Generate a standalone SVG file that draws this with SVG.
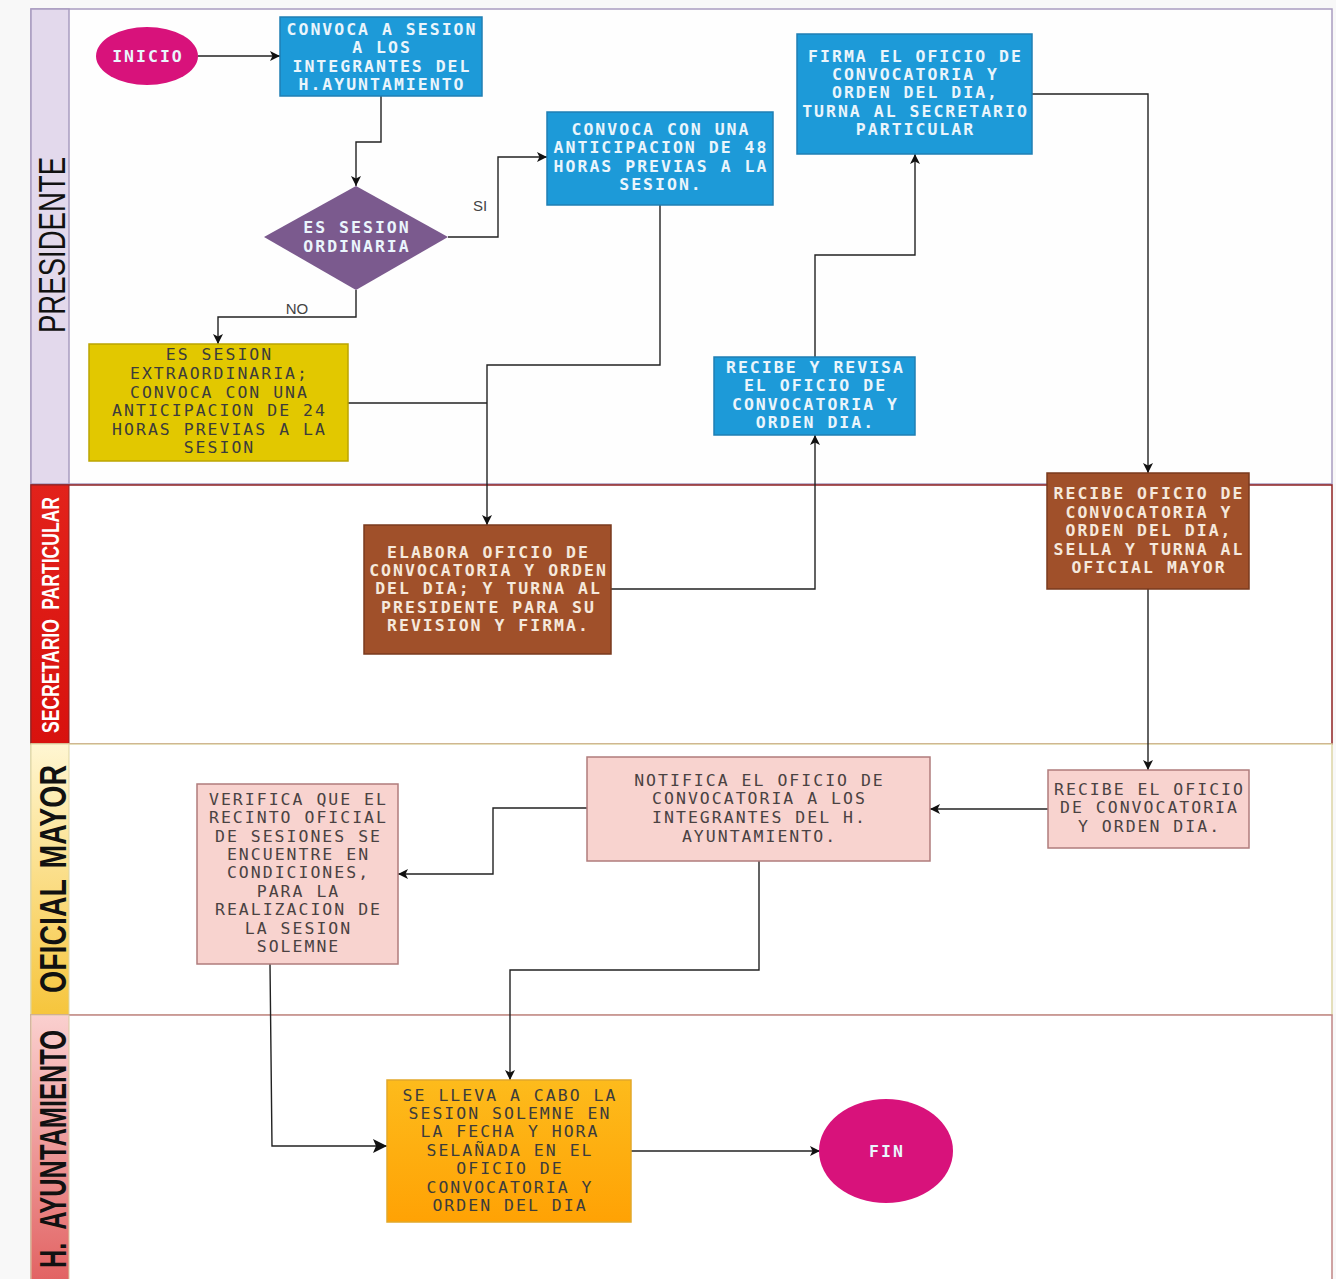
<svg xmlns="http://www.w3.org/2000/svg" width="1336" height="1279" viewBox="0 0 1336 1279">
<defs>
<style>
.t{font-family:"DejaVu Sans Mono","Liberation Mono",monospace;font-size:16.5px;letter-spacing:2px;text-anchor:middle}
.lt{fill:#eaf5fc;font-weight:bold}
.br{fill:#f5e8dc;font-weight:bold}
.dk{fill:#3c3c3c}
.pk{fill:#4a4242}
.blue{fill:#1d9ad8;stroke:#1f7fb4;stroke-width:1.5}
.brown{fill:#a0502a;stroke:#7a3a1e;stroke-width:1.5}
.pink{fill:#f8d3cf;stroke:#b07c7c;stroke-width:1.5}
.mag{fill:#d8127b}
.lbl{font-family:"Liberation Sans",Arial,sans-serif;text-anchor:middle}
.c{fill:none;stroke:#222;stroke-width:1.4}
.lab{font-family:"Liberation Sans",Arial,sans-serif;font-size:15px;fill:#444}
</style>
<marker id="ah" markerWidth="10" markerHeight="10" refX="10" refY="5" orient="auto" markerUnits="userSpaceOnUse" viewBox="0 0 10 10">
<path d="M0,0 L10,5 L0,10 L2.5,5 z" fill="#111"/>
</marker>
<marker id="ahb" markerWidth="14" markerHeight="14" refX="14" refY="7" orient="auto" markerUnits="userSpaceOnUse" viewBox="0 0 14 14">
<path d="M0,0 L14,7 L0,14 L3,7 z" fill="#111"/>
</marker>
<linearGradient id="gOM" x1="0" y1="0" x2="0" y2="1">
<stop offset="0" stop-color="#fff6d2"/>
<stop offset="1" stop-color="#f6c53c"/>
</linearGradient>
<linearGradient id="gHA" x1="0" y1="0" x2="0" y2="1">
<stop offset="0" stop-color="#fad0cf"/>
<stop offset="1" stop-color="#e15f5f"/>
</linearGradient>
<linearGradient id="gSP" x1="0" y1="0" x2="0" y2="1">
<stop offset="0" stop-color="#e2221b"/>
<stop offset="1" stop-color="#d8120e"/>
</linearGradient>
<linearGradient id="gOR" x1="0" y1="0" x2="0" y2="1">
<stop offset="0" stop-color="#fdbb1c"/>
<stop offset="1" stop-color="#ffa204"/>
</linearGradient>
</defs>
<rect x="0" y="0" width="1336" height="1279" fill="#f8f8f8"/>

<g id="lanes">
<g id="lane-presidente">
<rect x="31" y="9" width="1301" height="475" fill="#fefefe" stroke="#a99cc0" stroke-width="1.5"/>
<rect x="31" y="9" width="38" height="475" fill="#e3d9ec" stroke="#a99cc0" stroke-width="1.5"/>
<text class="lbl" transform="translate(65,245) rotate(-90)" font-size="37" textLength="176" lengthAdjust="spacingAndGlyphs" fill="#111">PRESIDENTE</text>
</g>
<g id="lane-secretario">
<rect x="31" y="485" width="1301" height="259" fill="#ffffff" stroke="#8e2222" stroke-width="1.5"/>
<rect x="31" y="485" width="38" height="259" fill="url(#gSP)" stroke="#8e2222" stroke-width="1"/>
<text class="lbl" transform="translate(59,615) rotate(-90)" font-size="24" font-weight="bold" textLength="236" lengthAdjust="spacingAndGlyphs" fill="#ffffff" word-spacing="6">SECRETARIO PARTICULAR</text>
</g>
<g id="lane-oficial">
<rect x="31" y="744" width="1301" height="271" fill="#ffffff" stroke="#ddd5a5" stroke-width="1.5"/>
<rect x="31" y="744" width="38" height="271" fill="url(#gOM)" stroke="#ddd5a5" stroke-width="1"/>
<text class="lbl" transform="translate(66,879) rotate(-90)" font-size="37" font-weight="bold" textLength="228" lengthAdjust="spacingAndGlyphs" fill="#111" word-spacing="4">OFICIAL MAYOR</text>
</g>
<g id="lane-ayuntamiento">
<rect x="31" y="1015" width="1301" height="275" fill="#ffffff" stroke="#c08585" stroke-width="1.5"/>
<rect x="31" y="1015" width="38" height="275" fill="url(#gHA)" stroke="#d9c9a0" stroke-width="1"/>
<text class="lbl" transform="translate(66,1149) rotate(-90)" font-size="37" font-weight="bold" textLength="238" lengthAdjust="spacingAndGlyphs" fill="#111" word-spacing="10">H. AYUNTAMIENTO</text>
</g>
</g>

<g id="connectors">
<path class="c" d="M198,56 L280,56" marker-end="url(#ah)"/>
<path class="c" d="M381,96 L381,142 L356,142 L356,186" marker-end="url(#ah)"/>
<path class="c" d="M448,237 L498,237 L498,157 L547,157" marker-end="url(#ah)"/>
<path class="c" d="M356,290 L356,317 L218,317 L218,344" marker-end="url(#ah)"/>
<path class="c" d="M660,205 L660,365 L487,365 L487,525" marker-end="url(#ah)"/>
<path class="c" d="M348,403 L487,403"/>
<path class="c" d="M611,589 L815,589 L815,435" marker-end="url(#ah)"/>
<path class="c" d="M815,357 L815,255 L915,255 L915,154" marker-end="url(#ah)"/>
<path class="c" d="M1032,94 L1148,94 L1148,473" marker-end="url(#ah)"/>
<path class="c" d="M1148,589 L1148,770" marker-end="url(#ah)"/>
<path class="c" d="M1048,809 L930,809" marker-end="url(#ah)"/>
<path class="c" d="M587,808 L493,808 L493,874 L398,874" marker-end="url(#ah)"/>
<path class="c" d="M759,861 L759,970 L510,970 L510,1080" marker-end="url(#ah)"/>
<path class="c" d="M270,964 L272,1146 L387,1146" stroke-width="2.2" marker-end="url(#ahb)"/>
<path class="c" d="M631,1151 L820,1151" marker-end="url(#ah)"/>
<text class="lab" x="480" y="211" text-anchor="middle">SI</text>
<text class="lab" x="297" y="314" text-anchor="middle">NO</text>
</g>

<g id="n-inicio">
<ellipse class="mag" cx="147" cy="56" rx="51" ry="29"/>
<text class="t lt" x="148" y="62" fill="#fbe8f2">INICIO</text>
</g>

<g id="n-convoca">
<rect class="blue" x="280" y="17" width="202" height="79"/>
<text class="t lt"><tspan x="382" y="34.5">CONVOCA A SESION</tspan><tspan x="382" y="53">A LOS</tspan><tspan x="382" y="71.5">INTEGRANTES DEL</tspan><tspan x="382" y="90">H.AYUNTAMIENTO</tspan></text>
</g>

<g id="n-decision">
<polygon points="356,186 448,237 356,290 264,237" fill="#7b5a8e"/>
<text class="t lt" fill="#f0eaf4"><tspan x="357" y="233">ES SESION</tspan><tspan x="357" y="252">ORDINARIA</tspan></text>
</g>

<g id="n-convoca48">
<rect class="blue" x="547" y="112" width="226" height="93"/>
<text class="t lt"><tspan x="661" y="134.5">CONVOCA CON UNA</tspan><tspan x="661" y="153">ANTICIPACION DE 48</tspan><tspan x="661" y="171.5">HORAS PREVIAS A LA</tspan><tspan x="661" y="190">SESION.</tspan></text>
</g>

<g id="n-firma">
<rect class="blue" x="797" y="34" width="235" height="120"/>
<text class="t lt"><tspan x="915.5" y="61.5">FIRMA EL OFICIO DE</tspan><tspan x="915.5" y="79.5">CONVOCATORIA Y</tspan><tspan x="915.5" y="98">ORDEN DEL DIA,</tspan><tspan x="915.5" y="116.5">TURNA AL SECRETARIO</tspan><tspan x="915.5" y="135">PARTICULAR</tspan></text>
</g>

<g id="n-extra">
<rect x="89" y="344" width="259" height="117" fill="#e2c800" stroke="#bba400" stroke-width="1.5"/>
<text class="t dk"><tspan x="219.5" y="360">ES SESION</tspan><tspan x="219.5" y="379">EXTRAORDINARIA;</tspan><tspan x="219.5" y="397.5">CONVOCA CON UNA</tspan><tspan x="219.5" y="416">ANTICIPACION DE 24</tspan><tspan x="219.5" y="434.5">HORAS PREVIAS A LA</tspan><tspan x="219.5" y="453">SESION</tspan></text>
</g>

<g id="n-revisa">
<rect class="blue" x="714" y="357" width="201" height="78"/>
<text class="t lt"><tspan x="815.5" y="372.5">RECIBE Y REVISA</tspan><tspan x="815.5" y="391">EL OFICIO DE</tspan><tspan x="815.5" y="409.5">CONVOCATORIA Y</tspan><tspan x="815.5" y="428">ORDEN DIA.</tspan></text>
</g>

<g id="n-elabora">
<rect class="brown" x="364" y="525" width="247" height="129"/>
<text class="t br"><tspan x="488.5" y="557.5">ELABORA OFICIO DE</tspan><tspan x="488.5" y="576">CONVOCATORIA Y ORDEN</tspan><tspan x="488.5" y="594">DEL DIA; Y TURNA AL</tspan><tspan x="488.5" y="612.5">PRESIDENTE PARA SU</tspan><tspan x="488.5" y="631">REVISION Y FIRMA.</tspan></text>
</g>

<g id="n-recibe-sella">
<rect class="brown" x="1047" y="473" width="202" height="116"/>
<text class="t br"><tspan x="1149" y="498.5">RECIBE OFICIO DE</tspan><tspan x="1149" y="517.5">CONVOCATORIA Y</tspan><tspan x="1149" y="536">ORDEN DEL DIA,</tspan><tspan x="1149" y="554.5">SELLA Y TURNA AL</tspan><tspan x="1149" y="573">OFICIAL MAYOR</tspan></text>
</g>

<g id="n-recibe-om">
<rect class="pink" x="1048" y="770" width="201" height="78"/>
<text class="t pk"><tspan x="1149.5" y="794.5">RECIBE EL OFICIO</tspan><tspan x="1149.5" y="813">DE CONVOCATORIA</tspan><tspan x="1149.5" y="832">Y ORDEN DIA.</tspan></text>
</g>

<g id="n-notifica">
<rect class="pink" x="587" y="757" width="343" height="104"/>
<text class="t pk"><tspan x="759.5" y="785.5">NOTIFICA EL OFICIO DE</tspan><tspan x="759.5" y="804">CONVOCATORIA A LOS</tspan><tspan x="759.5" y="823">INTEGRANTES DEL H.</tspan><tspan x="759.5" y="841.5">AYUNTAMIENTO.</tspan></text>
</g>

<g id="n-verifica">
<rect class="pink" x="197" y="784" width="201" height="180"/>
<text class="t pk"><tspan x="298.5" y="804.5">VERIFICA QUE EL</tspan><tspan x="298.5" y="822.5">RECINTO OFICIAL</tspan><tspan x="298.5" y="841.5">DE SESIONES SE</tspan><tspan x="298.5" y="859.5">ENCUENTRE EN</tspan><tspan x="298.5" y="877.5">CONDICIONES,</tspan><tspan x="298.5" y="896.5">PARA LA</tspan><tspan x="298.5" y="914.5">REALIZACION DE</tspan><tspan x="298.5" y="933.5">LA SESION</tspan><tspan x="298.5" y="951.5">SOLEMNE</tspan></text>
</g>

<g id="n-sesion">
<rect x="387" y="1080" width="244" height="142" fill="url(#gOR)" stroke="#e2a82a" stroke-width="1.5"/>
<text class="t dk"><tspan x="510" y="1100.5">SE LLEVA A CABO LA</tspan><tspan x="510" y="1118.5">SESION SOLEMNE EN</tspan><tspan x="510" y="1136.5">LA FECHA Y HORA</tspan><tspan x="510" y="1155.5">SELAÑADA EN EL</tspan><tspan x="510" y="1173.5">OFICIO DE</tspan><tspan x="510" y="1192.5">CONVOCATORIA Y</tspan><tspan x="510" y="1210.5">ORDEN DEL DIA</tspan></text>
</g>

<g id="n-fin">
<ellipse class="mag" cx="886" cy="1151" rx="67" ry="52"/>
<text class="t lt" x="887" y="1157" fill="#fbe8f2">FIN</text>
</g>
</svg>
